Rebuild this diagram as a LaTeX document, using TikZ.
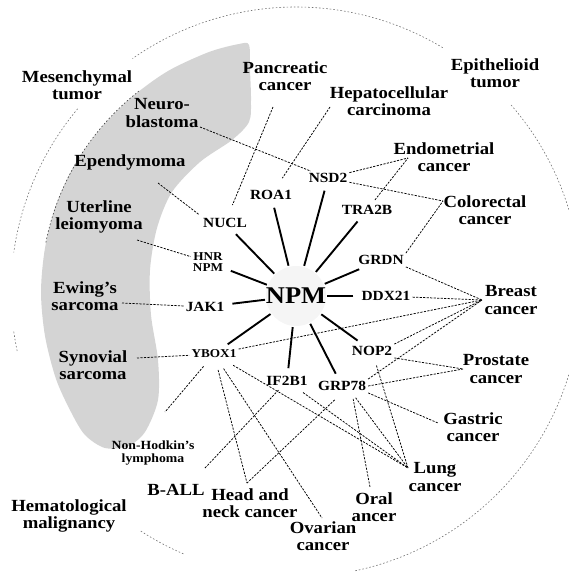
\documentclass[tikz,border=0pt]{standalone}
\usepackage{fontspec}
\setmainfont{Liberation Serif}[FakeStretch=1.1]
\begin{document}
\begin{tikzpicture}[x=1pt,y=-1pt,
  lbl/.style={font=\fontsize{17}{17.5}\selectfont\bfseries, align=center, inner sep=1pt},
  smlbl/.style={font=\fontsize{12.5}{13.5}\selectfont\bfseries, align=center, inner sep=1pt},
  gene/.style={font=\fontsize{14}{14}\selectfont\bfseries, inner sep=2pt},
  genesm/.style={font=\fontsize{12}{11}\selectfont\bfseries, inner sep=2pt, align=center},
  hub/.style={font=\fontsize{24}{24}\selectfont\bfseries, circle, inner sep=0pt},
  link/.style={line width=1.9pt, shorten <=6pt},
  assoc/.style={line width=0.75pt, dash pattern=on 2.2pt off 1.3pt},
  rim/.style={black!55, line width=0.6pt, dash pattern=on 1.6pt off 2pt},
]
\useasboundingbox (0,0) rectangle (568,578);

% shaded band
\fill[black!17] plot[smooth cycle, tension=0.5] coordinates {
  (239,44) (209,52) (168,71) (132,97) (101,128) (75,164) (56,205) (45,248)
  (41,292) (45,336) (56,379) (71,412) (85,435) (105,448) (128,446) (145,432)
  (158,400) (158,360) (151,315) (150,270) (157,228) (172,192) (200,162)
  (232,140) (249,122) (251,100) (250,70) (249,45)};

% faint halo round the hub
\fill[black!4] (296,296) circle (30);

% outer rim
\coordinate (ctr) at (296,292);
\draw[rim] (ctr) ++(-59:285) arc[start angle=-59, end angle=-125, radius=285];
\draw[rim] (ctr) ++(-140:285) arc[start angle=-140, end angle=-172, radius=285];
\draw[rim] (ctr) ++(-188:285) arc[start angle=-188, end angle=-192, radius=285];
\draw[rim] (ctr) ++(-237:285) arc[start angle=-237, end angle=-247, radius=285];
\draw[rim] (ctr) ++(78:285) arc[start angle=78, end angle=-41, radius=285];
\draw[rim, black!75] (ctr) ++(-128:255) arc[start angle=-128, end angle=-169, radius=255];

% genes
\node[hub] (npm) at (296,296) {NPM};
\node[gene] (nucl) at (225,223) {NUCL};
\node[gene] (roa1) at (271,195) {ROA1};
\node[gene] (nsd2) at (328,178) {NSD2};
\node[gene] (tra2b) at (367,210) {TRA2B};
\node[gene] (grdn) at (381,260) {GRDN};
\node[gene] (ddx21) at (386,296) {DDX21};
\node[gene] (nop2) at (372,351) {NOP2};
\node[gene] (grp78) at (342,386) {GRP78};
\node[gene] (if2b1) at (287,381) {IF2B1};
\node[genesm] (ybox1) at (214,354) {YBOX1};
\node[gene] (jak1) at (205,307) {JAK1};
\node[genesm] (hnr) at (208,262) {HNR\\NPM};

% disease labels
\node[lbl] (mes) at (77,85) {Mesenchymal\\tumor};
\node[lbl] (epi) at (495,73) {Epithelioid\\tumor};
\node[lbl] (hem) at (69,516) {Hematological\\malignancy};
\node[lbl] (panc) at (285,76) {Pancreatic\\cancer};
\node[lbl] (hep) at (389,101) {Hepatocellular\\carcinoma};
\node[lbl] (endo) at (444,157) {Endometrial\\cancer};
\node[lbl] (colo) at (485,210) {Colorectal\\cancer};
\node[lbl] (breast) at (511,300) {Breast\\cancer};
\node[lbl] (prost) at (496,369) {Prostate\\cancer};
\node[lbl] (gast) at (473,427) {Gastric\\cancer};
\node[lbl] (lung) at (435,477) {Lung\\cancer};
\node[lbl] (oral) at (374,507) {Oral\\ancer};
\node[lbl] (ovar) at (323,536) {Ovarian\\cancer};
\node[lbl] (head) at (250,503) {Head and\\neck cancer};
\node[lbl] (ball) at (176,490) {B-ALL};
\node[smlbl] (nhl) at (153,453) {Non-Hodkin's\\lymphoma};
\node[lbl] (syn) at (93,365) {Synovial\\sarcoma};
\node[lbl] (ewing) at (85,296) {Ewing's\\sarcoma};
\node[lbl] (uter) at (99,217) {Uterline\\leiomyoma};
\node[lbl] (epen) at (130,162) {Ependymoma};
\node[lbl] (neuro) at (162,113) {Neuro-\\blastoma};

% free ends near labels
\coordinate (neuroP) at (200,127);
\coordinate (pancP) at (273,107);
\coordinate (hepP) at (330,107);
\coordinate (epenP) at (158,183);
\coordinate (uterP) at (137,240);
\coordinate (ewingP) at (122,303);
\coordinate (synP) at (137,358);
\coordinate (nhlP) at (165,412);
\coordinate (ballP) at (205,468);
\coordinate (headP) at (247,483);
\coordinate (ovarP) at (322,518);
\coordinate (oralP) at (370,487);
\coordinate (lungP) at (408,468);
\coordinate (gastP) at (438,423);
\coordinate (prostP) at (463,369);
\coordinate (breastP) at (482,300);
\coordinate (coloP) at (443,201);
\coordinate (endoP) at (408,158);

% solid links to NPM
\foreach \g in {nucl,roa1,nsd2,tra2b,grdn,ddx21,nop2,grp78,if2b1,ybox1,jak1,hnr}
  \draw[link] (\g) -- (npm);

% dashed associations
\draw[assoc] (neuroP) -- (nsd2);
\draw[assoc, shorten >=12pt] (pancP) -- (nucl);
\draw[assoc, shorten >=12pt] (hepP) -- (roa1);
\draw[assoc, shorten >=2pt] (epenP) -- (nucl.north west);
\draw[assoc] (uterP) -- (hnr);
\draw[assoc] (ewingP) -- (jak1);
\draw[assoc] (synP) -- (ybox1);
\draw[assoc, shorten <=8pt] (ybox1) -- (nhlP);
\draw[assoc] (nsd2) -- (endoP);
\draw[assoc, shorten <=4pt] (tra2b) -- (endoP);
\draw[assoc] (nsd2) -- (coloP);
\draw[assoc] (grdn.north east) -- (coloP);
\draw[assoc] (grdn.south east) -- (breastP);
\draw[assoc] (ddx21) -- (breastP);
\draw[assoc] (ybox1) -- (breastP);
\draw[assoc] (nop2.north east) -- (breastP);
\draw[assoc] (grp78.north east) -- (breastP);
\draw[assoc] (nop2.south east) -- (prostP);
\draw[assoc] (grp78.east) -- (prostP);
\draw[assoc] (grp78.south east) -- (gastP);
\draw[assoc, shorten <=8pt] (nop2) -- (lungP);
\draw[assoc, shorten <=6pt] ([xshift=10pt]grp78.south) -- (lungP);
\draw[assoc, shorten <=6pt] ([xshift=10pt]grp78.south) -- (oralP);
\draw[assoc, shorten <=10pt] (grp78.south) -- (headP);
\draw[assoc, shorten <=8pt] (if2b1) -- (lungP);
\draw[assoc, shorten <=3pt] (if2b1) -- (ballP);
\draw[assoc, shorten <=10pt] (ybox1) -- (lungP);
\draw[assoc, shorten <=10pt] (ybox1) -- (headP);
\draw[assoc, shorten <=10pt] (ybox1) -- (ovarP);
\end{tikzpicture}
\end{document}
